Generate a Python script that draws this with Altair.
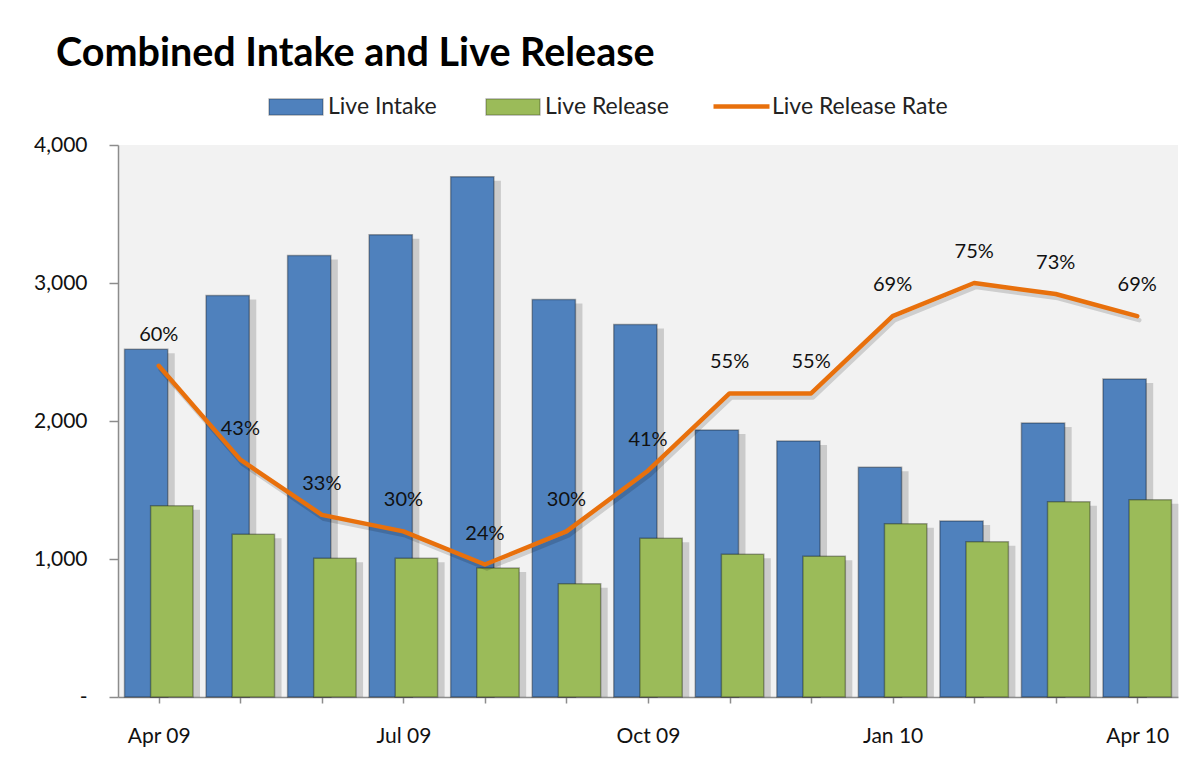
import json
import altair as alt
import pandas as pd

months = ["Apr 09", "May 09", "Jun 09", "Jul 09", "Aug 09", "Sep 09", "Oct 09",
          "Nov 09", "Dec 09", "Jan 10", "Feb 10", "Mar 10", "Apr 10"]
live_intake = [2520, 2910, 3200, 3350, 3770, 2880, 2700, 1935, 1855, 1665, 1275, 1985, 2305]
live_release = [1385, 1180, 1005, 1005, 935, 820, 1150, 1035, 1020, 1255, 1125, 1415, 1430]
release_rate = [0.60, 0.43, 0.33, 0.30, 0.24, 0.30, 0.41, 0.55, 0.55, 0.69, 0.75, 0.73, 0.69]

df = pd.DataFrame({
    "idx": list(range(len(months))),
    "month": months,
    "intake": live_intake,
    "release": live_release,
    "rate": release_rate,
})

BLUE = "#4F81BD"
GREEN = "#9BBB59"
ORANGE = "#E8700C"
EDGE = "rgba(0,0,0,0.32)"
FONT = "Lato"

label_expr = "datum.value % 3 == 0 ? " + json.dumps(months) + "[datum.value] : ''"

xscale = alt.Scale(domain=[-0.5, len(months) - 0.5], nice=False, zero=False)
x_axis = alt.Axis(values=list(range(len(months))), labelExpr=label_expr, title=None,
                  tickSize=6, labelPadding=22, labelFontSize=21, grid=False,
                  labelOverlap=False, labelLimit=200,
                  domainColor="#8c8c8c", tickColor="#8c8c8c", domainWidth=1.5, tickWidth=1.5)
yscale = alt.Scale(domain=[0, 4000], nice=False)
y_axis = alt.Axis(values=[0, 1000, 2000, 3000, 4000],
                  labelExpr="datum.value == 0 ? '-' : format(datum.value, ',')",
                  title=None, tickSize=9, labelPadding=22, labelFontSize=21, grid=False,
                  domainColor="#8c8c8c", tickColor="#8c8c8c", domainWidth=1.5, tickWidth=1.5)

fill_scale = alt.Scale(domain=["Live Intake", "Live Release"], range=[BLUE, GREEN])
fill_legend = alt.Legend(
    title=None, orient="none", direction="horizontal", legendX=150, legendY=-66,
    symbolType="M-1,-0.3H1V0.3H-1Z", symbolSize=2916, symbolStrokeColor=EDGE,
    symbolStrokeWidth=1.2, symbolOpacity=1, labelFont=FONT, labelFontSize=23,
    labelColor="#222", labelOffset=4, columnPadding=46, padding=0, labelLimit=300,
)
stroke_scale = alt.Scale(domain=["Live Release Rate"], range=[ORANGE])
stroke_legend = alt.Legend(
    title=None, orient="none", direction="horizontal", legendX=593, legendY=-69,
    symbolType="stroke", symbolSize=3136, symbolStrokeWidth=4.5,
    labelFont=FONT, labelFontSize=23, labelColor="#222", labelOffset=0, padding=0,
    labelLimit=300,
)

base = alt.Chart(df)

intake_x = base.transform_calculate(x0="datum.idx - 0.42", x1="datum.idx + 0.11",
                                    series="'Live Intake'")
release_x = base.transform_calculate(x0="datum.idx - 0.10", x1="datum.idx + 0.42",
                                     series="'Live Release'")

def bar_enc(chart, field):
    return chart.encode(
        x=alt.X("x0:Q", scale=xscale, axis=x_axis),
        x2="x1:Q",
        y=alt.Y(field + ":Q", scale=yscale, axis=y_axis),
        y2=alt.datum(0),
    )

intake_shadow = bar_enc(intake_x.mark_rect(color="#000", opacity=0.16, xOffset=4, x2Offset=7, yOffset=4), "intake")
intake_bars = bar_enc(intake_x.mark_rect(stroke=EDGE, strokeWidth=1.5), "intake").encode(
    fill=alt.Fill("series:N", scale=fill_scale, legend=fill_legend))
release_shadow = bar_enc(release_x.mark_rect(color="#000", opacity=0.16, xOffset=4, x2Offset=7, yOffset=4), "release")
release_bars = bar_enc(release_x.mark_rect(stroke=EDGE, strokeWidth=1.5), "release").encode(
    fill=alt.Fill("series:N", scale=fill_scale, legend=fill_legend))

bars = alt.layer(intake_shadow, intake_bars, release_shadow, release_bars)

rscale = alt.Scale(domain=[0, 1], nice=False)
line_base = base.transform_calculate(series="'Live Release Rate'")
line_shadow = line_base.mark_line(color="#000", opacity=0.15, strokeWidth=4.5, xOffset=2, yOffset=4,
                                  strokeCap="round", strokeJoin="round").encode(
    x=alt.X("idx:Q", scale=xscale, axis=x_axis),
    y=alt.Y("rate:Q", scale=rscale, axis=None),
)
line = line_base.mark_line(strokeWidth=4.5, strokeCap="round", strokeJoin="round").encode(
    x=alt.X("idx:Q", scale=xscale, axis=x_axis),
    y=alt.Y("rate:Q", scale=rscale, axis=None),
    stroke=alt.Stroke("series:N", scale=stroke_scale, legend=stroke_legend),
)
labels = base.mark_text(font=FONT, fontSize=20, color="#111", dy=-31, baseline="middle").encode(
    x=alt.X("idx:Q", scale=xscale, axis=x_axis),
    y=alt.Y("rate:Q", scale=rscale, axis=None),
    text=alt.Text("rate:Q", format=".0%"),
)
rates = alt.layer(line_shadow, line, labels)

chart = alt.layer(bars, rates).resolve_scale(y="independent").properties(
    width=1060, height=552,
    autosize=alt.AutoSizeParams(type="none"),
    padding={"left": 110, "top": 137, "right": 16, "bottom": 60},
    background="white",
    title=alt.TitleParams(
        "Combined Intake and Live Release", anchor="start", frame="group",
        font=FONT, fontSize=39.5, fontWeight="bold", color="#000",
        dx=-62, offset=-29, baseline="alphabetic",
    ),
).configure_view(fill="#F2F2F2", stroke=None).configure_axis(
    labelFont=FONT, labelColor="#111"
)

chart.save("out.html", embed_options={"renderer": "svg", "actions": False})
